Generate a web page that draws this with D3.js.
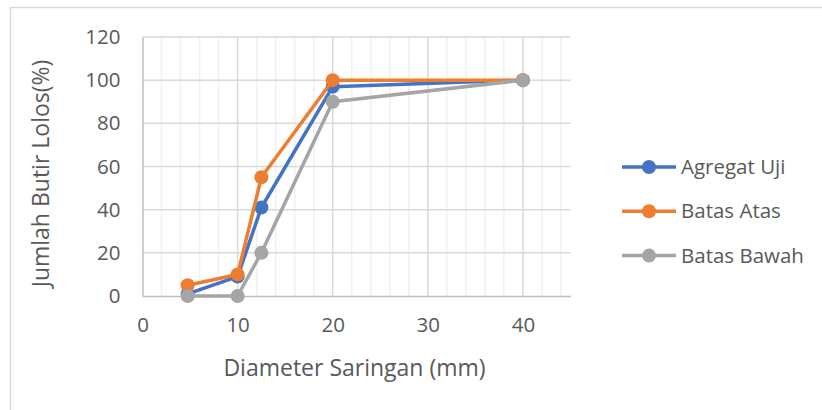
<!DOCTYPE html>
<html>
<head>
<meta charset="utf-8">
<script src="https://cdn.jsdelivr.net/npm/d3@7"></script>
<style>
  body { margin: 0; background: #fff; }
  text { font-family: "Open Sans", "Noto Sans", sans-serif; fill: #595959; }
</style>
</head>
<body>
<div id="chart"></div>
<script>
// data
var sieveSizes = [4.75, 10, 12.5, 20, 40];
var agregatUji = [1, 9, 41, 97, 100];
var batasAtas = [5, 10, 55, 100, 100];
var batasBawah = [0, 0, 20, 90, 100];
var seriesNames = ["Agregat Uji", "Batas Atas", "Batas Bawah"];
var xTicks = [0, 10, 20, 30, 40];
var yTicks = [0, 20, 40, 60, 80, 100, 120];

var colors = ["#4472C4", "#ED7D31", "#A5A5A5"];
var allSeries = [agregatUji, batasAtas, batasBawah];

var W = 822, H = 410;
var margin = {top: 37, left: 142.5, right: 251.5, bottom: 114};
var width = W - margin.left - margin.right,
    height = H - margin.top - margin.bottom;

var svg = d3.select("#chart")
  .append("svg")
    .attr("width", W)
    .attr("height", H);

// chart frame (cropped: only top and left edges show)
svg.append("path")
    .attr("d", "M10.5," + H + "V7.5H" + W)
    .attr("fill", "none")
    .attr("stroke", "#D9D9D9")
    .attr("stroke-width", 1.5);

var g = svg.append("g")
    .attr("transform", "translate(" + margin.left + "," + margin.top + ")");

var x = d3.scaleLinear().domain([0, 45]).range([0, width]);
var y = d3.scaleLinear().domain([0, 120]).range([height, 0]);

// minor vertical gridlines every 2
g.append("g")
  .selectAll("line")
  .data(d3.range(2, 45, 2).filter(function(d){ return d % 10 !== 0; }))
  .enter().append("line")
    .attr("x1", function(d){ return x(d); })
    .attr("x2", function(d){ return x(d); })
    .attr("y1", 0).attr("y2", height)
    .attr("stroke", "#F0F0F0")
    .attr("stroke-width", 1.5);

// major vertical gridlines
g.append("g")
  .selectAll("line")
  .data(xTicks.slice(1))
  .enter().append("line")
    .attr("x1", function(d){ return x(d); })
    .attr("x2", function(d){ return x(d); })
    .attr("y1", 0).attr("y2", height)
    .attr("stroke", "#D9D9D9")
    .attr("stroke-width", 1.5);

// horizontal gridlines
g.append("g")
  .selectAll("line")
  .data(yTicks.slice(1))
  .enter().append("line")
    .attr("x1", 0).attr("x2", width)
    .attr("y1", function(d){ return y(d); })
    .attr("y2", function(d){ return y(d); })
    .attr("stroke", "#D9D9D9")
    .attr("stroke-width", 1.5);

// axes
var xAxis = g.append("g")
    .attr("transform", "translate(0," + height + ")")
    .call(d3.axisBottom(x).tickValues(xTicks).tickSize(0).tickPadding(21));
xAxis.select(".domain").attr("stroke", "#BFBFBF").attr("stroke-width", 1.5);

var yAxis = g.append("g")
    .call(d3.axisLeft(y).tickValues(yTicks).tickSize(0).tickPadding(22));
yAxis.select(".domain").attr("stroke", "#BFBFBF").attr("stroke-width", 1.5);

g.selectAll(".tick text")
    .style("font-family", "'Open Sans', sans-serif")
    .style("font-size", "20.5px")
    .attr("fill", "#595959");

// axis titles
g.append("text")
    .attr("x", width / 2 - 2)
    .attr("y", height + 80)
    .attr("text-anchor", "middle")
    .style("font-size", "23px")
    .text("Diameter Saringan (mm)");

g.append("text")
    .attr("transform", "translate(" + (49 - margin.left) + "," + (height / 2 + 7) + ") rotate(-90)")
    .attr("text-anchor", "middle")
    .style("font-size", "23px")
    .text("Jumlah Butir Lolos(%)");

// lines and markers
var line = d3.line()
    .x(function(d, i){ return x(sieveSizes[i]); })
    .y(function(d){ return y(d); });

allSeries.forEach(function(vals, s) {
  var sg = g.append("g");
  sg.append("path")
      .datum(vals)
      .attr("d", line)
      .attr("fill", "none")
      .attr("stroke", colors[s])
      .attr("stroke-width", 3.5)
      .attr("stroke-linejoin", "round");
  sg.selectAll("circle")
    .data(vals)
    .enter().append("circle")
      .attr("cx", function(d, i){ return x(sieveSizes[i]); })
      .attr("cy", function(d){ return y(d); })
      .attr("r", 7)
      .attr("fill", colors[s]);
});

// legend
var legend = svg.append("g")
    .attr("transform", "translate(622,167)");
seriesNames.forEach(function(name, i) {
  var row = legend.append("g").attr("transform", "translate(0," + (i * 44.3) + ")");
  row.append("line")
      .attr("x1", 0).attr("x2", 54)
      .attr("stroke", colors[i])
      .attr("stroke-width", 3.5);
  row.append("circle")
      .attr("cx", 27).attr("r", 7)
      .attr("fill", colors[i]);
  row.append("text")
      .attr("x", 59)
      .attr("dy", "0.35em")
      .style("font-size", "20.5px")
      .text(name);
});
</script>
</body>
</html>
